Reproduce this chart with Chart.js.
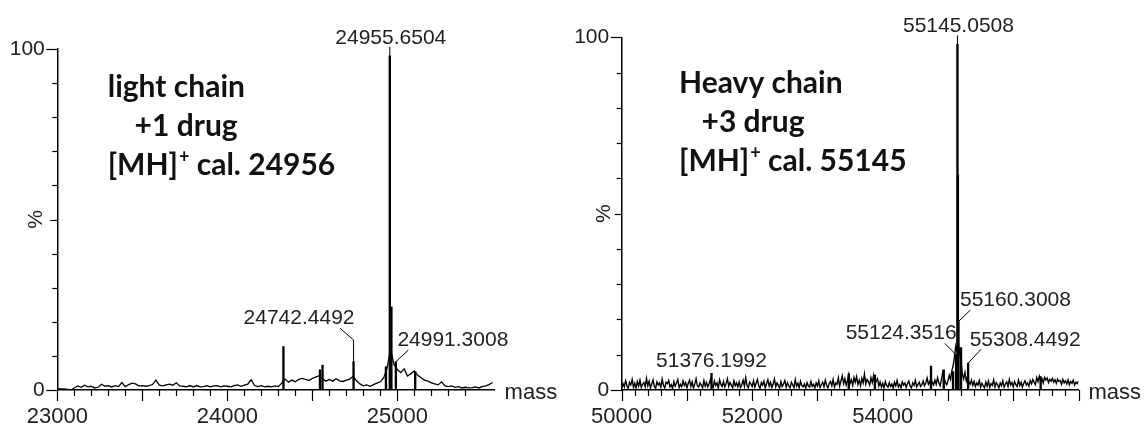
<!DOCTYPE html>
<html>
<head>
<meta charset="utf-8">
<script src="https://cdn.jsdelivr.net/npm/chart.js@4.4.1/dist/chart.umd.min.js"></script>
<style>
  html, body { margin: 0; padding: 0; background: #fff; }
  .panel { position: absolute; top: 0; height: 424px; }
  #left { left: 0; width: 560px; }
  #right { left: 560px; width: 584px; }
</style>
</head>
<body>
<div class="panel" id="left"><canvas id="lightChart"></canvas></div>
<div class="panel" id="right"><canvas id="heavyChart"></canvas></div>
<script>
// light chain spectrum: trace sampled every 20 Da from 23000
const lightStart = 23000;
const lightStep = 20;
const lightTrace = [
  0.3, 0.3, 0.3, 0.2, 0.0, 0.6, 1.2, 0.8, 1.4, 0.9,
  1.1, 0.6, 0.8, 1.7, 1.1, 1.3, 0.9, 1.3, 1.0, 2.2,
  1.0, 1.6, 2.0, 1.8, 1.2, 1.3, 1.1, 1.3, 1.6, 2.9,
  1.4, 1.2, 1.5, 1.7, 1.4, 2.1, 1.2, 1.1, 0.9, 1.3,
  0.9, 1.3, 0.9, 1.0, 1.3, 0.9, 1.2, 1.3, 0.9, 1.2,
  1.1, 0.9, 1.3, 1.5, 1.1, 1.4, 1.7, 3.0, 1.3, 1.0,
  1.3, 0.9, 1.1, 0.9, 1.2, 1.0, 2.0, 3.2, 2.3, 2.9,
  2.4, 3.1, 3.4, 3.1, 2.8, 3.4, 3.8, 4.2, 3.3, 2.6,
  3.1, 2.6, 3.3, 2.7, 2.5, 2.9, 3.2, 4.0, 2.7, 1.8,
  1.2, 1.5, 1.1, 1.6, 2.0, 2.4, 3.6, 6.5, 12.0, 7.5,
  6.0, 5.1, 6.2, 4.1, 4.8, 5.6, 4.3, 3.6, 2.9, 2.6,
  2.1, 1.8, 1.5, 2.4, 1.2, 1.0, 1.2, 0.8, 1.0, 0.6,
  0.8, 0.6, 0.7, 0.9, 0.6, 1.0, 1.2, 1.6, 2.2
];
// light chain centroid peaks
const lightPeakMass = [24330, 24545, 24560, 24742.4492, 24933, 24955.6504, 24965, 24991.3008, 25105];
const lightPeakHeight = [12.7, 5.9, 7.3, 8.3, 6.8, 98, 24.4, 8.3, 5.4];
const lightXLabels = [23000, 24000, 25000];

// heavy chain spectrum: raw trace sampled every 20 Da from 50000
const heavyStart = 50000;
const heavyStep = 20;
const heavyTrace = [
  0.6, 1.8, 0.9, 2.6, 1.2, 0.4, 2.2, 1.5, 3.0, 0.8,
  1.9, 0.5, 2.4, 1.1, 2.8, 0.7, 1.6, 2.1, 0.9, 3.3,
  1.2, 2.5, 0.6, 1.7, 2.9, 1.0, 0.5, 2.3, 1.4, 2.0,
  0.8, 3.1, 1.3, 0.6, 2.2, 1.8, 2.7, 0.9, 1.5, 0.4,
  2.4, 1.1, 2.0, 3.0, 0.7, 1.6, 0.9, 2.6, 1.3, 2.1,
  0.6, 1.9, 2.8, 1.0, 2.3, 0.5, 1.7, 3.2, 1.2, 0.8,
  2.0, 1.4, 0.6, 2.7, 1.1, 2.2, 0.9, 1.8, 3.0, 1.5,
  0.7, 2.5, 1.3, 2.0, 0.5, 2.9, 1.6, 1.0, 2.4, 0.8,
  1.8, 3.2, 1.0, 2.1, 1.4, 0.6, 2.6, 1.2, 2.0, 0.9,
  2.3, 0.7, 1.5, 2.8, 1.1, 3.5, 1.3, 0.6, 2.2, 1.7,
  1.0, 2.6, 0.8, 1.9, 3.0, 1.2, 0.5, 2.1, 1.4, 2.5,
  0.6, 1.8, 2.9, 1.1, 2.2, 0.7, 1.6, 3.1, 0.9, 2.0,
  1.3, 0.5, 2.4, 1.0, 1.7, 2.7, 0.8, 2.0, 1.2, 0.6,
  2.2, 1.5, 0.7, 3.0, 1.1, 1.9, 0.6, 2.5, 1.3, 0.9,
  1.7, 0.5, 2.1, 1.2, 0.8, 2.4, 1.0, 1.6, 0.6, 2.0,
  1.1, 2.6, 0.7, 1.5, 2.2, 0.9, 2.8, 1.3, 0.6, 1.9,
  2.4, 1.2, 3.0, 0.9, 2.0, 1.6, 3.4, 1.1, 2.6, 4.0,
  1.8, 3.2, 1.4, 2.7, 4.4, 1.9, 2.9, 1.3, 3.6, 2.2,
  3.8, 1.6, 2.8, 1.2, 3.3, 2.0, 4.5, 1.7, 3.0, 2.4,
  1.4, 3.5, 2.1, 4.1, 1.5, 2.6, 3.2, 1.1, 2.3, 0.8,
  1.9, 0.6, 2.4, 1.3, 0.8, 2.1, 1.0, 1.7, 0.5, 2.2,
  1.2, 2.7, 0.9, 1.6, 0.6, 2.3, 1.4, 2.0, 0.7, 1.8,
  2.5, 1.1, 0.6, 2.0, 1.3, 2.8, 0.9, 1.6, 2.2, 1.0,
  1.5, 2.6, 1.2, 2.0, 3.4, 1.6, 2.4, 1.1, 2.2, 1.4,
  2.8, 1.6, 3.5, 2.0, 1.2, 3.0, 5.0, 3.4, 2.2, 1.5,
  2.6, 4.2, 3.0, 5.5, 7.0, 9.5, 12.5, 11.0, 13.0, 10.5,
  8.0, 4.5, 3.2, 5.0, 2.6, 3.8, 2.2, 1.6, 2.8, 1.3,
  2.4, 1.0, 2.0, 1.4, 2.7, 0.8, 1.9, 1.2, 0.6, 2.3,
  1.1, 2.5, 0.7, 1.8, 1.3, 2.9, 0.9, 2.1, 1.5, 0.6,
  2.0, 1.2, 2.6, 0.8, 1.7, 2.3, 1.0, 3.0, 1.4, 2.1,
  0.9, 2.4, 1.5, 1.0, 2.8, 1.3, 2.2, 0.8, 1.9, 2.6,
  1.4, 2.0, 1.1, 2.7, 1.8, 3.0, 2.2, 1.5, 3.5, 2.4,
  3.9, 2.6, 3.2, 2.0, 3.6, 2.8, 3.4, 2.1, 3.0, 2.5,
  3.3, 2.2, 2.9, 1.9, 3.1, 2.4, 2.7, 1.6, 3.0, 2.0,
  2.6, 1.7, 2.9, 1.5, 2.4, 1.9, 2.8, 1.4, 2.2, 1.8,
  2.5
];
const heavyPeakMass = [51376.1992, 53480, 53880, 54740, 54935, 55077, 55124.3516, 55145.0508, 55152, 55160.3008, 55200, 55308.4492, 56420];
const heavyPeakHeight = [4.7, 4.5, 4.2, 6.8, 5.7, 5.2, 10, 98, 61, 19.4, 12, 7.6, 3.8];
const heavyXLabels = [50000, 52000, 54000];

const yLabels = [0, 100];

Chart.defaults.font.family = '"Liberation Sans", Arial, sans-serif';
Chart.defaults.color = '#222';

// axis tick marks, peak labels with leader lines, "%"/"mass" and the bold caption
const decor = {
  id: 'decor',
  afterDraw(chart, args, o) {
    const { ctx } = chart;
    const x = chart.scales.x, y = chart.scales.y;
    ctx.save();
    ctx.strokeStyle = '#000';
    ctx.lineWidth = 1.2;
    const seg = (x1, y1, x2, y2) => {
      ctx.beginPath(); ctx.moveTo(x1, y1); ctx.lineTo(x2, y2); ctx.stroke();
    };
    x.ticks.forEach(t => {
      if (t.value % o.minorStep !== 0) return;
      const px = Math.round(x.getPixelForValue(t.value)) + 0.5;
      const len = t.value % o.majorStep === 0 ? 11 : 6;
      seg(px, y.bottom, px, y.bottom + len);
    });
    y.ticks.forEach(t => {
      const py = Math.round(y.getPixelForValue(t.value)) + 0.5;
      const len = (t.value === 0 || t.value === 100) ? 11 : (t.value === 50 ? 7 : 5);
      seg(x.left - len, py, x.left, py);
    });

    ctx.fillStyle = '#222';
    ctx.font = '21px "Liberation Sans", Arial, sans-serif';
    ctx.textAlign = 'center';
    ctx.textBaseline = 'middle';
    // % label
    ctx.save();
    ctx.translate(x.left - o.pctGap, y.getPixelForValue(50));
    ctx.rotate(-Math.PI / 2);
    ctx.fillText('%', 0, 0);
    ctx.restore();
    // mass label
    ctx.textAlign = 'left';
    ctx.font = '22px "Liberation Sans", Arial, sans-serif';
    ctx.fillText('mass', x.right + 10, y.bottom + 3);

    // peak labels
    ctx.font = '21px "Liberation Sans", Arial, sans-serif';
    ctx.textAlign = 'center';
    ctx.lineWidth = 1;
    o.labels.forEach(l => {
      const i = o.peakMass.indexOf(l.mass);
      const px = x.getPixelForValue(l.mass);
      const py = y.getPixelForValue(o.peakHeight[i]);
      ctx.fillText(l.mass.toFixed(4), px + l.dx, py + l.dy);
      ctx.beginPath();
      l.leader.forEach((p, k) => {
        if (k === 0) ctx.moveTo(px + p[0], py + p[1]);
        else ctx.lineTo(px + p[0], py + p[1]);
      });
      ctx.stroke();
    });

    // bold caption
    ctx.fillStyle = '#111';
    ctx.textAlign = 'left';
    ctx.textBaseline = 'alphabetic';
    const big = 'bold 30px Lato, "Open Sans", sans-serif';
    const small = 'bold 18px Lato, "Open Sans", sans-serif';
    o.caption.forEach(c => {
      let cx = c.x;
      ctx.font = big;
      ctx.fillText(c.text, cx, c.y);
      if (c.sup) {
        cx += ctx.measureText(c.text).width;
        ctx.font = small;
        ctx.fillText(c.sup, cx + 1, c.y - 12);
        cx += ctx.measureText(c.sup).width + 1;
        ctx.font = big;
        ctx.fillText(c.rest, cx, c.y);
      }
    });
    ctx.restore();
  }
};

function makeChart(id, s) {
  const trace = s.trace.map((v, i) => ({ x: s.start + i * s.step, y: v }));
  const sticks = s.peakMass.map((m, i) => ({ x: m, y: s.peakHeight[i] }));
  return new Chart(document.getElementById(id), {
    type: 'line',
    data: {
      datasets: [
        { type: 'line', data: trace, borderColor: '#000', borderWidth: s.lineWidth, pointRadius: 0, tension: 0 },
        { type: 'bar', data: sticks, backgroundColor: '#000', borderWidth: 0, barThickness: 1.7 }
      ]
    },
    options: {
      responsive: true,
      maintainAspectRatio: false,
      animation: false,
      events: [],
      layout: { autoPadding: false, padding: { left: 0, right: s.padRight, top: s.padTop, bottom: 0 } },
      plugins: { legend: { display: false }, tooltip: { enabled: false }, decor: s.decor },
      scales: {
        x: {
          type: 'linear', min: s.xMin, max: s.xMax, offset: false,
          grid: { display: false, drawTicks: false },
          border: { display: true, color: '#000', width: 1.5 },
          ticks: {
            stepSize: s.decor.minorStep, autoSkip: false, maxRotation: 0, minRotation: 0,
            padding: 14, color: '#222', font: { size: 22 },
            callback: v => s.xLabels.includes(v) ? String(v) : ''
          },
          afterFit: sc => { sc.height = 34; }
        },
        y: {
          min: 0, max: 100,
          grid: { display: false, drawTicks: false },
          border: { display: true, color: '#000', width: 1.5 },
          ticks: {
            stepSize: 10, padding: 12.5, color: '#222', font: { size: 21 },
            callback: v => yLabels.includes(v) ? String(v) : ''
          },
          afterFit: sc => { sc.width = s.axisLeft; }
        }
      }
    },
    plugins: [decor]
  });
}

makeChart('lightChart', {
  start: lightStart, step: lightStep, trace: lightTrace, lineWidth: 1.3,
  peakMass: lightPeakMass, peakHeight: lightPeakHeight, xLabels: lightXLabels,
  xMin: 23000, xMax: 25572, axisLeft: 57.3, padRight: 65.4, padTop: 49,
  decor: {
    minorStep: 100, majorStep: 500, pctGap: 21,
    peakMass: lightPeakMass, peakHeight: lightPeakHeight,
    labels: [
      { mass: 24955.6504, dx: 1, dy: -18, leader: [[0, -9], [0, 0]] },
      { mass: 24742.4492, dx: -54.5, dy: -43.7, leader: [[-13.5, -33.5], [0, -21.7], [0, 0]] },
      { mass: 24991.3008, dx: 57, dy: -21.7, leader: [[12.5, -11.7], [0, 0]] }
    ],
    caption: [
      { text: 'light chain', x: 107.7, y: 97 },
      { text: '+1 drug', x: 134.6, y: 136 },
      { text: '[MH]', sup: '+', rest: ' cal. 24956', x: 107.7, y: 175 }
    ]
  }
});

makeChart('heavyChart', {
  start: heavyStart, step: heavyStep, trace: heavyTrace, lineWidth: 1.4,
  peakMass: heavyPeakMass, peakHeight: heavyPeakHeight, xLabels: heavyXLabels,
  xMin: 50000, xMax: 57000, axisLeft: 61.7, padRight: 65.5, padTop: 37.3,
  decor: {
    minorStep: 200, majorStep: 1000, pctGap: 17,
    peakMass: heavyPeakMass, peakHeight: heavyPeakHeight,
    labels: [
      { mass: 55145.0508, dx: 1, dy: -17.7, leader: [[0, -9], [0, 0]] },
      { mass: 55160.3008, dx: 57, dy: -21.6, leader: [[12, -11.6], [0, 0]] },
      { mass: 55124.3516, dx: -55, dy: -21.7, leader: [[-11.5, -11.4], [0, 0]] },
      { mass: 55308.4492, dx: 57, dy: -22.5, leader: [[13, -14], [0, 0]] },
      { mass: 51376.1992, dx: 0, dy: -12, leader: [] }
    ],
    caption: [
      { text: 'Heavy chain', x: 119, y: 93 },
      { text: '+3 drug', x: 141.5, y: 132 },
      { text: '[MH]', sup: '+', rest: ' cal. 55145', x: 119, y: 171 }
    ]
  }
});
</script>
</body>
</html>
